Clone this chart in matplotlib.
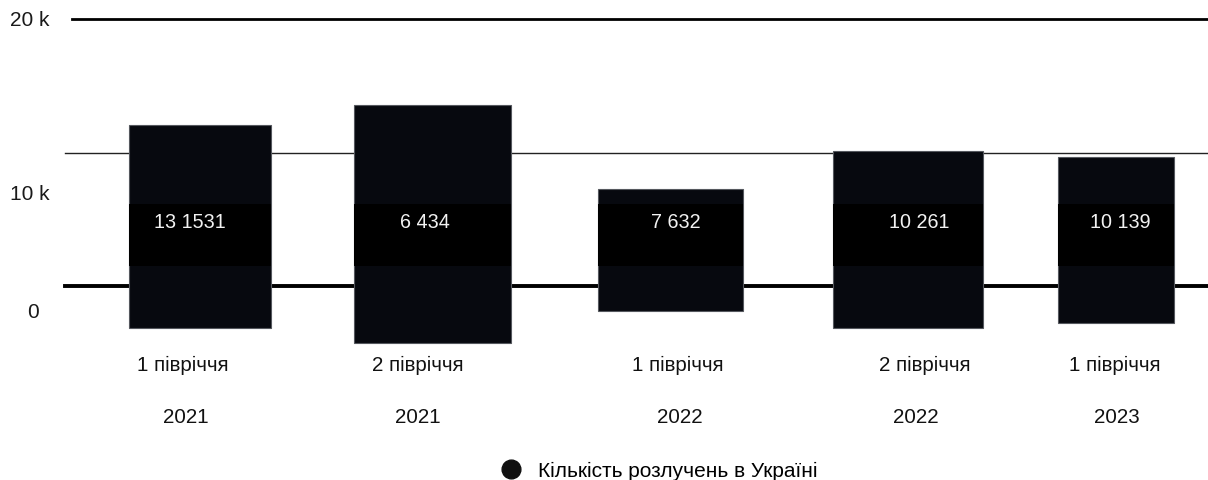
import matplotlib
matplotlib.use('Agg')
import matplotlib.pyplot as plt
from matplotlib.lines import Line2D

plt.rcParams['font.family'] = ['Liberation Sans', 'DejaVu Sans']

# data
periods = ['1 півріччя', '2 півріччя', '1 півріччя', '2 півріччя', '1 півріччя']
years = ['2021', '2021', '2022', '2022', '2023']
value_labels = ['13 1531', '6 434', '7 632', '10 261', '10 139']
bar_top = [12060, 13560, 7270, 10100, 9700]
bar_bottom = [-3150, -4270, -1870, -3150, -2800]
band_top = 6140
band_bottom = 1500

# layout (category units)
x_pos = [0, 1.015, 2.055, 3.09, 4.0]
widths = [0.62, 0.685, 0.635, 0.655, 0.51]
value_x = [-0.044, 0.983, 2.08, 3.14, 4.017]
period_x = [-0.074, 0.952, 2.087, 3.166, 3.996]
year_x = [-0.061, 0.952, 2.096, 3.127, 4.004]

fig = plt.figure(figsize=(12.08, 4.81), dpi=100)
ax = fig.add_axes([0, 0, 1, 1])
ax.set_xlim(-0.873, 4.402)
ax.set_ylim(-14530, 21500)
ax.axis('off')

# reference lines
ax.axhline(20000, xmin=0.06, color='#000000', linewidth=2, zorder=1)
ax.axhline(10000, xmin=0.054, color='#222222', linewidth=1, zorder=1)
ax.axhline(0, xmin=0.054, color='#000000', linewidth=2.8, zorder=1)

heights = [t - b for t, b in zip(bar_top, bar_bottom)]
ax.bar(x_pos, heights, bottom=bar_bottom, width=widths,
       color='#07090f', edgecolor='#55585e', linewidth=0.8, zorder=2)
ax.bar(x_pos, band_top - band_bottom, bottom=band_bottom, width=widths,
       color='#000000', linewidth=0, zorder=3)

for x, lab in zip(value_x, value_labels):
    ax.text(x, 4850, lab, color='#f2f2f2', fontsize=14.2,
            ha='center', va='center', zorder=4)

# y labels (placed as in the picture)
tr = ax.get_yaxis_transform()
ax.text(0.008, 20000, '20 k', transform=tr, fontsize=15, ha='left', va='center', color='#1a1a1a')
ax.text(0.008, 6900, '10 k', transform=tr, fontsize=15, ha='left', va='center', color='#1a1a1a')
ax.text(0.027, -1900, '0', transform=tr, fontsize=15, ha='center', va='center', color='#1a1a1a')

for x, p in zip(period_x, periods):
    ax.text(x, -5900, p, fontsize=14.8, ha='center', va='center', color='#111111')
for x, yr in zip(year_x, years):
    ax.text(x, -9750, yr, fontsize=14.8, ha='center', va='center', color='#111111')

handle = Line2D([], [], marker='o', linestyle='none', markersize=13.5,
                markerfacecolor='#111111', markeredgecolor='#111111')
fig.legend([handle], ['Кількість розлучень в Україні'], loc='center',
           bbox_to_anchor=(0.541, 0.019), frameon=False, fontsize=15,
           handletextpad=0.3, borderpad=0)

fig.savefig('out.png', dpi=100, facecolor='white')
